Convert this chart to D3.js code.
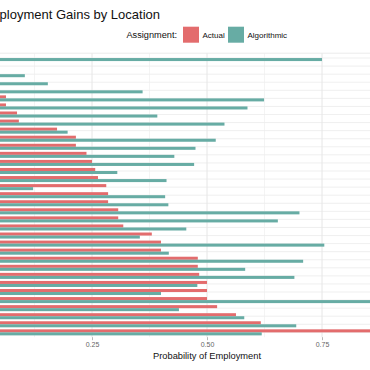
<!DOCTYPE html>
<html>
<head>
<meta charset="utf-8">
<script src="https://cdn.jsdelivr.net/npm/d3@7"></script>
<style>
  body { margin: 0; background: #fff; }
  svg { display: block; font-family: "Liberation Sans", Arial, sans-serif; }
</style>
</head>
<body>
<div id="chart"></div>
<script>
var w = 370;
var h = 370;

// locations, top row first (names are cut off in the reference)
var locations = ["Location 1", "Location 2", "Location 3", "Location 4", "Location 5",
  "Location 6", "Location 7", "Location 8", "Location 9", "Location 10",
  "Location 11", "Location 12", "Location 13", "Location 14", "Location 15",
  "Location 16", "Location 17", "Location 18", "Location 19", "Location 20",
  "Location 21", "Location 22", "Location 23", "Location 24", "Location 25",
  "Location 26", "Location 27", "Location 28", "Location 29", "Location 30",
  "Location 31", "Location 32", "Location 33", "Location 34", "Location 35"];

var actual = [0, 0, 0, 0, 0, 0.063, 0.063, 0.087, 0.091, 0.174,
  0.215, 0.215, 0.238, 0.25, 0.257, 0.263, 0.281, 0.285, 0.285, 0.307,
  0.307, 0.318, 0.38, 0.40, 0.40, 0.48, 0.48, 0.483, 0.50, 0.50,
  0.50, 0.522, 0.563, 0.617, 1.0];

var algorithmic = [0.75, 0, 0.104, 0.154, 0.36, 0.624, 0.588, 0.392, 0.538, 0.197,
  0.519, 0.475, 0.429, 0.472, 0.305, 0.412, 0.122, 0.409, 0.416, 0.701,
  0.654, 0.455, 0.354, 0.755, 0.417, 0.709, 0.583, 0.69, 0.479, 0.40,
  0.92, 0.439, 0.581, 0.694, 0.619];

var groups = ["Actual", "Algorithmic"];
var xTicks = [0.25, 0.5, 0.75];
var xMinor = [0.125, 0.375, 0.625, 0.875];

var colors = { "Actual": "#E36C6D", "Algorithmic": "#67ACA4" };

var panelTop = 53.2;
var panelBottom = 337.2;

var svg = d3.select("#chart")
  .append("svg")
  .attr("width", w)
  .attr("height", h);

var x = d3.scaleLinear().domain([0, 1]).range([-23, 437]);

var y = d3.scalePoint()
  .domain(locations)
  .range([panelTop, panelBottom])
  .padding(0.6);

var step = y.step();
var sub = d3.scaleBand()
  .domain(groups)
  .range([-0.375 * step, 0.375 * step]);

// grid
svg.append("line")
  .attr("x1", 0).attr("x2", w)
  .attr("y1", panelTop).attr("y2", panelTop)
  .attr("stroke", "#e6e6e6").attr("stroke-width", 0.8);

svg.selectAll(".hgrid")
  .data(locations)
  .enter()
  .append("line")
  .attr("class", "hgrid")
  .attr("x1", 0).attr("x2", w)
  .attr("y1", function(d) { return y(d); })
  .attr("y2", function(d) { return y(d); })
  .attr("stroke", "#ebebeb")
  .attr("stroke-width", 0.8);

svg.selectAll(".vminor")
  .data(xMinor)
  .enter()
  .append("line")
  .attr("x1", function(d) { return x(d); })
  .attr("x2", function(d) { return x(d); })
  .attr("y1", panelTop).attr("y2", panelBottom)
  .attr("stroke", "#ededed")
  .attr("stroke-width", 0.6);

svg.selectAll(".vmajor")
  .data(xTicks)
  .enter()
  .append("line")
  .attr("x1", function(d) { return x(d); })
  .attr("x2", function(d) { return x(d); })
  .attr("y1", panelTop).attr("y2", panelBottom)
  .attr("stroke", "#e6e6e6")
  .attr("stroke-width", 1);

// bars
var rows = locations.map(function(loc, i) {
  return { loc: loc, values: [
    { key: "Actual", value: actual[i] },
    { key: "Algorithmic", value: algorithmic[i] }
  ] };
});

var row = svg.selectAll(".row")
  .data(rows)
  .enter()
  .append("g")
  .attr("transform", function(d) { return "translate(0," + y(d.loc) + ")"; });

row.selectAll("rect")
  .data(function(d) { return d.values; })
  .enter()
  .append("rect")
  .attr("x", x(0))
  .attr("y", function(d) { return sub(d.key); })
  .attr("width", function(d) { return x(d.value) - x(0); })
  .attr("height", sub.bandwidth())
  .attr("fill", function(d) { return colors[d.key]; });

// x axis
var xAxis = svg.append("g")
  .attr("transform", "translate(0," + panelBottom + ")")
  .call(d3.axisBottom(x).tickValues(xTicks).tickFormat(d3.format(".2f")).tickSize(3).tickPadding(2.3));

xAxis.select(".domain").remove();
xAxis.selectAll(".tick line").attr("stroke", "#999").attr("stroke-width", 0.7);
xAxis.selectAll(".tick text")
  .attr("font-family", "Liberation Sans, Arial, sans-serif")
  .attr("font-size", "7px")
  .attr("fill", "#666");

svg.append("text")
  .attr("x", x(0.5))
  .attr("y", 359)
  .attr("text-anchor", "middle")
  .attr("font-size", "9.3px")
  .attr("fill", "#111")
  .text("Probability of Employment");

// title (left part is cropped in the reference)
svg.append("text")
  .attr("x", 160)
  .attr("y", 19)
  .attr("text-anchor", "end")
  .attr("font-size", "13px")
  .attr("fill", "#111")
  .text("Employment Gains by Location");

// legend
var legend = svg.append("g");

legend.append("text")
  .attr("x", 177)
  .attr("y", 37.5)
  .attr("text-anchor", "end")
  .attr("font-size", "9.2px")
  .attr("fill", "#111")
  .text("Assignment:");

var keyX = { "Actual": 183, "Algorithmic": 228 };

legend.selectAll(".key")
  .data(groups)
  .enter()
  .append("rect")
  .attr("x", function(d) { return keyX[d]; })
  .attr("y", 26.7)
  .attr("width", 16)
  .attr("height", 16)
  .attr("fill", function(d) { return colors[d]; });

legend.selectAll(".lab")
  .data(groups)
  .enter()
  .append("text")
  .attr("x", function(d) { return keyX[d] + 19.5; })
  .attr("y", 37.5)
  .attr("font-size", "8px")
  .attr("fill", "#111")
  .text(function(d) { return d; });
</script>
</body>
</html>
